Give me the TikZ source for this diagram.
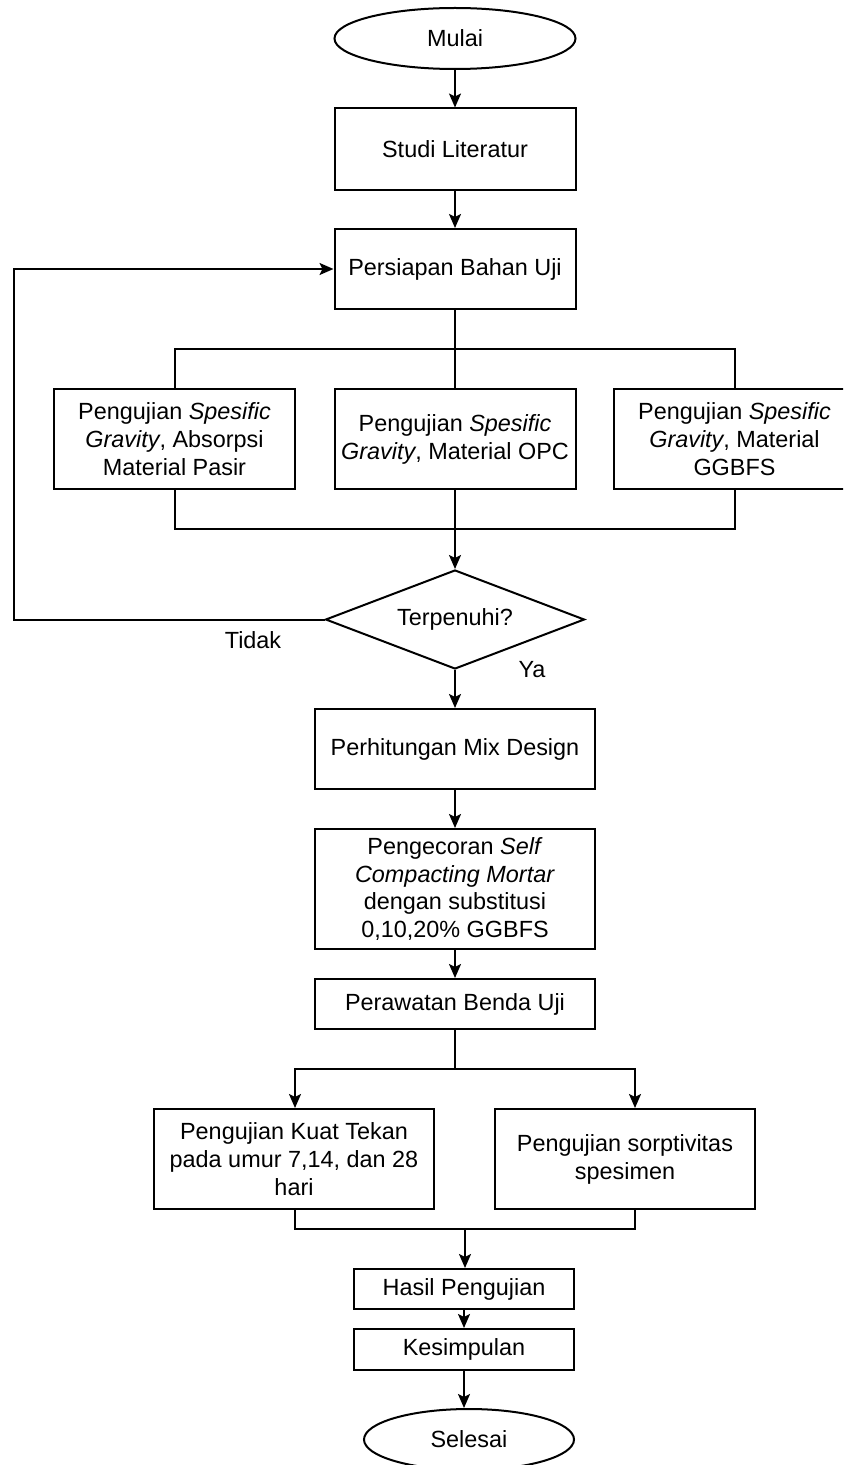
\documentclass[tikz,border=0pt]{standalone}
\usepackage{fontspec}
\setmainfont{Liberation Sans}
\usetikzlibrary{shapes.geometric,arrows.meta}
\begin{document}
\begin{tikzpicture}[x=1bp,y=-1bp,
  every node/.style={font=\fontsize{23.5}{28}\selectfont},
  box/.style={draw, line width=2bp, align=center, inner sep=0pt},
  term/.style={draw, ellipse, line width=2bp, inner sep=0pt},
  dia/.style={draw, diamond, aspect=2.6, line width=2bp, inner sep=0pt, minimum width=259bp, minimum height=99bp},
  ln/.style={line width=2bp},
  arr/.style={line width=2bp, -{Stealth[length=14bp,width=12bp,inset=3bp]}}]
\useasboundingbox (0,0) rectangle (843,1465);
\clip (0,0) rectangle (843,1465);
\node[term, minimum width=241bp, minimum height=61bp] (mulai) at (455,38.5) {Mulai};
\node[box, minimum width=241bp, minimum height=81bp] (studi) at (455,149) {Studi Literatur};
\node[box, minimum width=241bp, minimum height=80bp] (persiapan) at (455,269) {Persiapan Bahan Uji};
\node[box, minimum width=241bp, minimum height=100bp] (g1) at (174.5,439) {Pengujian \textit{Spesific}\\\textit{Gravity}, Absorpsi\\Material Pasir};
\node[box, minimum width=241bp, minimum height=100bp] (g2) at (455,439) {Pengujian \textit{Spesific}\\\textit{Gravity}, Material OPC};
\node[box, minimum width=241bp, minimum height=100bp] (g3) at (734.5,439) {Pengujian \textit{Spesific}\\\textit{Gravity}, Material\\GGBFS};
\node[dia] (dec) at (455,619.5) {Terpenuhi?};
\node (tidak) at (253,640) {Tidak};
\node (ya) at (532,670) {Ya};
\node[box, minimum width=280bp, minimum height=80bp] (hitung) at (455,749) {Perhitungan Mix Design};
\node[box, minimum width=280bp, minimum height=120bp] (cor) at (455,889) {Pengecoran \textit{Self}\\\textit{Compacting Mortar}\\dengan substitusi\\0,10,20\% GGBFS};
\node[box, minimum width=280bp, minimum height=50bp] (rawat) at (455,1004) {Perawatan Benda Uji};
\node[box, minimum width=280bp, minimum height=100bp] (kuat) at (294,1159) {Pengujian Kuat Tekan\\pada umur 7,14, dan 28\\hari};
\node[box, minimum width=260bp, minimum height=100bp] (sorp) at (625,1159) {Pengujian sorptivitas\\spesimen};
\node[box, minimum width=220bp, minimum height=40bp] (hasil) at (464,1289) {Hasil Pengujian};
\node[box, minimum width=220bp, minimum height=41bp] (simpul) at (464,1349.5) {Kesimpulan};
\node[term, minimum width=210bp, minimum height=61bp] (selesai) at (469,1439.5) {Selesai};
\coordinate (bt) at (455,349);
\coordinate (bb) at (455,529);
\coordinate (fb) at (13.5,619.5);
\coordinate (sp) at (455,1069);
\coordinate (mg) at (465,1229);
\draw[arr] (mulai) -- (studi);
\draw[arr] (studi) -- (persiapan);
\draw[ln] (persiapan) -- (g2);
\draw[ln] (g1.north) |- (bt) -| (g3.north);
\draw[ln] (g1.south) |- (bb) -| (g3.south);
\draw[arr] (g2.south) -- (dec.north);
\draw[arr] (dec.west) -- (fb) |- (persiapan.west);
\draw[arr] (dec.south) -- (hitung.north);
\draw[arr] (hitung) -- (cor);
\draw[arr] (cor) -- (rawat);
\draw[ln] (rawat.south) -- (sp);
\draw[arr] (sp) -| ([xshift=1bp]kuat.north);
\draw[arr] (sp) -| ([xshift=10bp]sorp.north);
\draw[ln] ([xshift=1bp]kuat.south) |- (mg) -| ([xshift=10bp]sorp.south);
\draw[arr] (mg) -- (hasil.north -| mg);
\draw[arr] (hasil) -- (simpul);
\draw[arr] (simpul.south) -- (simpul.south |- selesai.north);
\end{tikzpicture}
\end{document}
